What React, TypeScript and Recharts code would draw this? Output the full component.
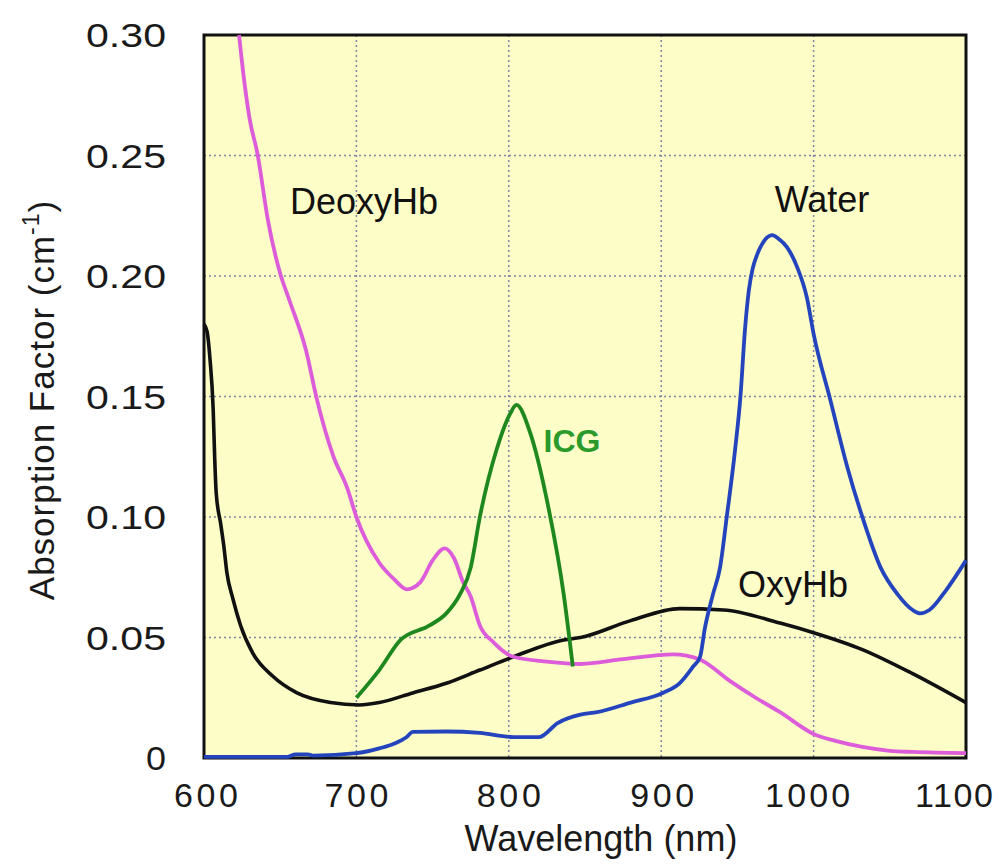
import React from 'react';
import {
  LineChart,
  Line,
  XAxis,
  YAxis,
  CartesianGrid,
  ReferenceArea,
  ReferenceDot,
  Label,
} from 'recharts';

// wavelengths (nm) and absorption (cm^-1)
const deoxyWl = [623, 626, 630, 635, 642, 650, 656, 667, 674, 685, 694, 700, 715, 725, 733, 742, 750, 758, 764, 770, 775, 781, 790, 803, 825, 847, 875, 908, 925, 945, 962, 978, 1000, 1015, 1032, 1050, 1065, 1100];
const deoxyAbs = [0.3, 0.283, 0.265, 0.251, 0.223, 0.201, 0.19, 0.169, 0.149, 0.125, 0.112, 0.1, 0.081, 0.074, 0.07, 0.073, 0.082, 0.087, 0.083, 0.073, 0.067, 0.055, 0.048, 0.042, 0.04, 0.039, 0.041, 0.043, 0.041, 0.032, 0.025, 0.019, 0.01, 0.007, 0.0046, 0.003, 0.0025, 0.002];

const oxyWl = [600, 602, 604, 606, 607, 608, 611, 613, 615, 619, 624, 632, 645, 661, 683, 702, 715, 737, 759, 781, 803, 836, 847, 880, 912, 941, 978, 1000, 1032, 1065, 1100];
const oxyAbs = [0.18, 0.177, 0.165, 0.145, 0.125, 0.11, 0.097, 0.088, 0.077, 0.066, 0.055, 0.0435, 0.034, 0.027, 0.023, 0.022, 0.023, 0.027, 0.031, 0.0365, 0.042, 0.049, 0.05, 0.057, 0.062, 0.0614, 0.056, 0.052, 0.045, 0.035, 0.023];

const icgWl = [700, 715, 729, 748, 759, 768, 775, 781, 792, 801, 805, 814, 825, 836, 842];
const icgAbs = [0.025, 0.0365, 0.049, 0.055, 0.06, 0.068, 0.079, 0.1, 0.128, 0.143, 0.1465, 0.135, 0.107, 0.068, 0.038];

const waterWl = [600, 655, 660, 668, 672, 700, 715, 725, 733, 737, 759, 781, 803, 820, 832, 847, 858, 880, 901, 912, 921, 925.5, 928.7, 934, 938.6, 943, 948.5, 952, 955, 957.5, 960, 963, 966, 969.5, 972.7, 977, 982.5, 989, 995.6, 1000, 1011, 1022, 1032, 1044, 1055, 1065, 1070, 1076, 1087, 1100];
const waterAbs = [0.0005, 0.0005, 0.0015, 0.0015, 0.001, 0.002, 0.004, 0.006, 0.0087, 0.0108, 0.011, 0.0104, 0.0087, 0.0087, 0.0145, 0.018, 0.019, 0.023, 0.027, 0.031, 0.038, 0.042, 0.054, 0.068, 0.079, 0.1, 0.128, 0.15, 0.178, 0.194, 0.203, 0.209, 0.213, 0.216, 0.217, 0.2155, 0.212, 0.204, 0.191, 0.176, 0.1485, 0.121, 0.1, 0.079, 0.068, 0.0614, 0.06, 0.0614, 0.0697, 0.082];

const xTicks = [600, 700, 800, 900, 1000, 1100];
const xTickShift = [2, 0, 0, 1, -6, -12];
const yTicks = [0, 0.05, 0.1, 0.15, 0.2, 0.25, 0.3];
const yTickLabels = ['0', '0.05', '0.10', '0.15', '0.20', '0.25', '0.30'];

// curve name labels: [text, wavelength, absorption, colour, bold]
const curveNames: [string, number, number, string, boolean][] = [
  ['DeoxyHb', 705, 0.2307, '#111', false],
  ['Water', 1005.5, 0.2315, '#111', false],
  ['ICG', 841.5, 0.132, '#2a9a2a', true],
  ['OxyHb', 986.5, 0.0718, '#111', false],
];

const toPoints = (wl: number[], abs: number[]) => wl.map((w, i) => ({ wl: w, abs: abs[i] }));

const FONT = '"Liberation Sans", Arial, sans-serif';

const YTick = ({ x, y, payload }: any) => {
  const i = yTicks.indexOf(payload.value);
  const txt = yTickLabels[i] ?? String(payload.value);
  return (
    <text
      x={x}
      y={y + 12}
      textAnchor="end"
      fontSize={34}
      fontFamily={FONT}
      fill="#1a1a1a"
      textLength={txt.length === 1 ? 20 : 80}
      lengthAdjust="spacingAndGlyphs"
    >
      {txt}
    </text>
  );
};

const XTick = ({ x, y, payload }: any) => {
  const txt = String(payload.value);
  const i = xTicks.indexOf(payload.value);
  return (
    <text
      x={x + (xTickShift[i] ?? 0)}
      y={y + 17}
      textAnchor="middle"
      fontSize={34}
      fontFamily={FONT}
      fill="#1a1a1a"
      textLength={txt.length === 3 ? 64 : txt === '1100' ? 78 : 85}
      lengthAdjust="spacing"
    >
      {txt}
    </text>
  );
};

export default function App() {
  return (
    <div style={{ width: 999, height: 867, background: '#fff' }}>
      <style>{'body{margin:0}'}</style>
      <LineChart width={999} height={867} margin={{ top: 35, right: 33, bottom: 0, left: 0 }}>
        <CartesianGrid
          fill="#fdfdc8"
          stroke="#7d86a3"
          strokeDasharray="2 3"
          strokeWidth={1.5}
          horizontalValues={yTicks}
          verticalValues={xTicks}
        />
        <XAxis
          type="number"
          dataKey="wl"
          domain={[600, 1100]}
          ticks={xTicks}
          height={109}
          tickSize={0}
          tickMargin={32}
          axisLine={false}
          tickLine={false}
          tick={<XTick />}
          allowDuplicatedCategory={false}
        >
          <Label
            content={() => (
              <text x={601} y={851} textAnchor="middle" fontSize={36} fontFamily={FONT} fill="#1a1a1a">
                Wavelength (nm)
              </text>
            )}
          />
        </XAxis>
        <YAxis
          type="number"
          domain={[0, 0.3]}
          ticks={yTicks}
          width={204}
          tickSize={0}
          tickMargin={38}
          axisLine={false}
          tickLine={false}
          tick={<YTick />}
        >
          <Label
            content={() => (
              <text
                transform="translate(54, 400) rotate(-90)"
                x={0}
                y={0}
                textAnchor="middle"
                fontSize={35}
                fontFamily={FONT}
                fill="#1a1a1a"
                letterSpacing={1}
              >
                Absorption Factor (cm
                <tspan fontSize={23} dy={-15}>-1</tspan>
                <tspan dy={15}>)</tspan>
              </text>
            )}
          />
        </YAxis>
        <Line data={toPoints(oxyWl, oxyAbs)} dataKey="abs" type="monotone" stroke="#111" strokeWidth={3.6} dot={false} isAnimationActive={false} />
        <Line data={toPoints(deoxyWl, deoxyAbs)} dataKey="abs" type="monotone" stroke="#dc5cd9" strokeWidth={3.8} dot={false} isAnimationActive={false} />
        <Line data={toPoints(icgWl, icgAbs)} dataKey="abs" type="monotone" stroke="#1e871e" strokeWidth={3.8} dot={false} isAnimationActive={false} />
        <Line data={toPoints(waterWl, waterAbs)} dataKey="abs" type="monotone" stroke="#2444bd" strokeWidth={3.8} dot={false} isAnimationActive={false} />
        <ReferenceArea x1={600} x2={1100} y1={0} y2={0.3} fill="none" stroke="#111" strokeWidth={3} ifOverflow="visible" />
        {curveNames.map(([name, wl, abs, color, bold]) => (
          <ReferenceDot
            key={name}
            x={wl}
            y={abs}
            r={0}
            ifOverflow="visible"
            shape={(p: any) => (
              <text
                x={p.cx}
                y={p.cy + 12}
                textAnchor="middle"
                fontSize={bold ? 32 : 36}
                fontWeight={bold ? 'bold' : 'normal'}
                fontFamily={FONT}
                fill={color}
              >
                {name}
              </text>
            )}
          />
        ))}
      </LineChart>
    </div>
  );
}
